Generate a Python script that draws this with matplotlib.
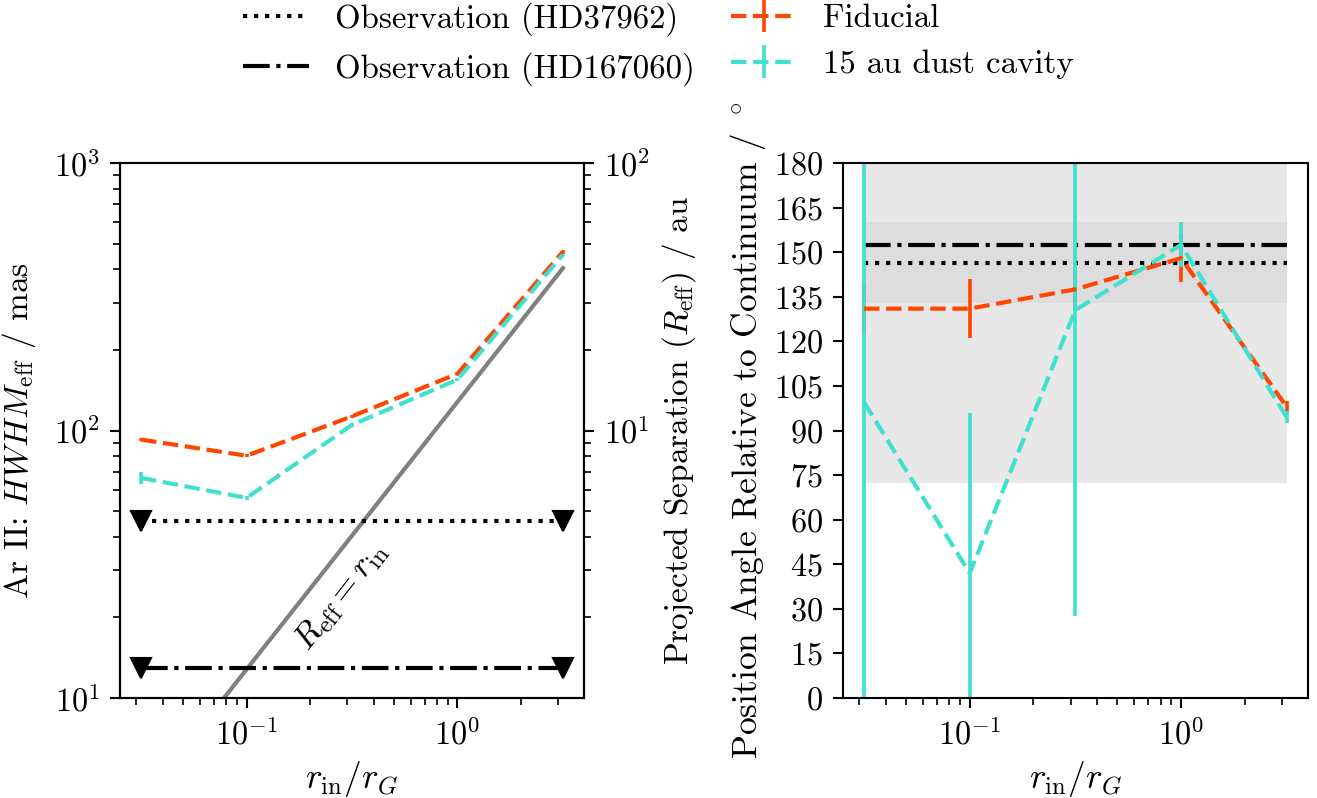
import numpy as np
import matplotlib
matplotlib.use('Agg')
import matplotlib.pyplot as plt
from matplotlib.ticker import MultipleLocator

plt.rcParams['font.family'] = 'serif'
plt.rcParams['font.serif'] = ['cmr10']
plt.rcParams['mathtext.fontset'] = 'cm'
plt.rcParams['axes.formatter.use_mathtext'] = True
plt.rcParams['axes.unicode_minus'] = False
plt.rcParams['font.size'] = 16
plt.rcParams['xtick.labelsize'] = 15.5
plt.rcParams['ytick.labelsize'] = 15.5
plt.rcParams['lines.linewidth'] = 2
plt.rcParams['axes.linewidth'] = 1.0
for ax_name in ['xtick', 'ytick']:
    plt.rcParams[ax_name + '.major.size'] = 5
    plt.rcParams[ax_name + '.minor.size'] = 3.2
    plt.rcParams[ax_name + '.major.width'] = 1.0
    plt.rcParams[ax_name + '.minor.width'] = 0.8
    plt.rcParams[ax_name + '.major.pad'] = 4.5

# Inner radius of the models in units of the gravitational radius
r_in = [0.0316, 0.1, 0.316, 1.0, 3.16]

# Ar II effective HWHM (mas)
hwhm_fid = [92.5, 80.5, 113.0, 163.0, 466.0]
hwhm_fid_err = [1.0, 1.0, 1.5, 2.0, 5.0]
hwhm_cav = [66.5, 56.0, 105.0, 155.0, 454.0]
hwhm_cav_err = [3.5, 1.0, 1.5, 2.0, 5.0]

# Position angle relative to continuum (deg)
pa_fid = [131.0, 131.0, 137.5, 148.0, 98.0]
pa_fid_err = [8.5, 10.0, 7.0, 8.0, 2.0]
pa_cav = [99.5, 42.0, 130.5, 152.5, 94.5]
pa_cav_err = [130.0, 54.0, 103.0, 7.5, 2.0]

# Observed upper limits and position angles
obs_names = ['Observation (HD37962)', 'Observation (HD167060)']
obs_styles = [':', '-.']
obs_hwhm = [45.7, 12.9]
obs_pa = [146.5, 152.5]
obs_pa_err = [13.5, 80.0]

# mas per r_G, and distance (pc) for the au axis
rg_mas = 128.0
distance_pc = 100.01
au_per_mas = distance_pc / 1000.0

c_fid = 'orangered'
c_cav = 'turquoise'
elw = 1.75

fig = plt.figure(figsize=(1317 / 150, 798 / 150), dpi=150)
ax1 = fig.add_axes([0.0911, 0.1253, 0.3523, 0.6704])
ax3 = fig.add_axes([0.6400, 0.1253, 0.3530, 0.6704])

x_ends = [r_in[0], r_in[-1]]

# ---- left: sizes
ax1.set_xscale('log')
ax1.set_yscale('log')
ax1.plot(r_in, [rg_mas * r for r in r_in], color='grey')
for name, ls, h in zip(obs_names, obs_styles, obs_hwhm):
    ax1.plot(x_ends, [h, h], ls=ls, color='k', marker='v', ms=10)
ax1.errorbar(r_in, hwhm_fid, yerr=hwhm_fid_err, color=c_fid, ls='--',
             elinewidth=elw)
ax1.errorbar(r_in, hwhm_cav, yerr=hwhm_cav_err, color=c_cav, ls='--',
             elinewidth=elw)
ax1.set_ylim(10, 1000)
ax1.set_xlabel(r'$r_{\rm in}/r_G$', fontsize=17)
ax1.set_ylabel(r'Ar II: $HWHM_{\rm eff}$ / mas', labelpad=7.5)
ax1.text(0.28, 24, r'$R_{\rm eff} = r_{\rm in}$', rotation=52,
         ha='center', va='center', fontsize=16.5)

ax2 = ax1.twinx()
ax2.set_yscale('log')
lo, hi = ax1.get_ylim()
ax2.set_ylim(lo * au_per_mas, hi * au_per_mas)
ax2.set_ylabel(r'Projected Separation ($R_{\rm eff}$) / au', labelpad=5)

# ---- right: position angles
ax3.set_xscale('log')
handles = []
for name, ls, pa, err in zip(obs_names, obs_styles, obs_pa, obs_pa_err):
    ax3.fill_between(x_ends, pa - err, pa + err, color='lightgrey', alpha=0.5,
                     lw=0)
    ln, = ax3.plot(x_ends, [pa, pa], ls=ls, color='k', label=name)
    handles.append(ln)
eb1 = ax3.errorbar(r_in, pa_fid, yerr=pa_fid_err, color=c_fid, ls='--',
                   elinewidth=elw, label='Fiducial')
eb2 = ax3.errorbar(r_in, pa_cav, yerr=pa_cav_err, color=c_cav, ls='--',
                   elinewidth=elw, label='15 au dust cavity')
handles += [eb1, eb2]
ax3.set_ylim(0, 180)
ax3.yaxis.set_major_locator(MultipleLocator(15))
ax3.set_xlim(ax1.get_xlim())
ax3.set_xlabel(r'$r_{\rm in}/r_G$', fontsize=17)
ax3.set_ylabel(r'Position Angle Relative to Continuum / $^\circ$',
               fontsize=17, labelpad=3)

fig.legend(handles=handles, loc='upper center', bbox_to_anchor=(0.5, 1.035),
           ncol=2, frameon=False, fontsize=15.8, handletextpad=0.8,
           columnspacing=1.1)

fig.savefig('out.png', dpi=150)
